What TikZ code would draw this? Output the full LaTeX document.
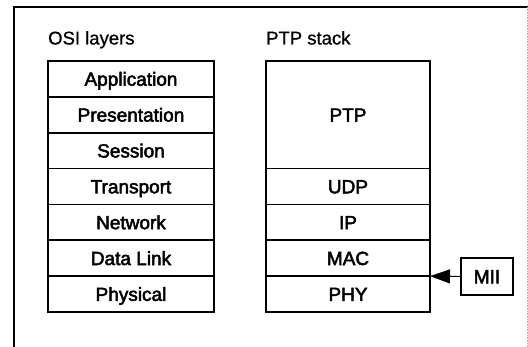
\documentclass[tikz,border=0pt]{standalone}
\usepackage{fontspec}
\setmainfont{Liberation Sans}[FakeBold=0.8]
\newfontfamily\layerfont{Liberation Sans}[FakeBold=2.6]
\usetikzlibrary{arrows.meta}
\begin{document}
\begin{tikzpicture}[x=1pt,y=-1pt,
    frameline/.style={line width=1.6pt},
    heading/.style={anchor=base west,inner sep=0pt,font=\fontsize{18.5}{20}\selectfont},
    layer/.style={draw,line width=1.6pt,inner sep=0pt,outer sep=0pt,
      minimum width=#1,text height=13.6pt,text depth=0pt,
      font=\layerfont\fontsize{19}{21}\selectfont},
    layer/.default=166pt,
    osi/.style={layer,minimum height=35.86pt},
    stackrow/.style={layer=164pt,minimum height=35.86pt},
    feed/.style={line width=1pt,-{Triangle[length=20pt,width=14pt]}}]
  \useasboundingbox (0,0) rectangle (528,347);

  % outer frame (open towards the bottom edge)
  \draw[frameline] (14,347) -- (14,7) -- (528,7);
  \draw[gray!60,line width=0.6pt,densely dotted] (527,7) -- (527,347);

  % column headings
  \node[heading] (osihead) at (48,44.5) {OSI layers};
  \node[heading] (ptphead) at (266,44.5) {PTP stack};

  % OSI reference model, seven layers
  \node[osi] (app)  at (131,78.93)  {Application};
  \node[osi] (pres) at (131,114.79) {Presentation};
  \node[osi] (sess) at (131,150.64) {Session};
  \node[osi] (trans) at (131,186.50) {Transport};
  \node[osi] (net)  at (131,222.36) {Network};
  \node[osi] (dl)   at (131,258.21) {Data Link};
  \node[osi] (phys) at (131,294.07) {Physical};

  % PTP protocol stack
  \node[layer=164pt,minimum height=107.57pt] (ptp) at (348,114.79) {PTP};
  \node[stackrow] (udp) at (348,186.50) {UDP};
  \node[stackrow] (ip)  at (348,222.36) {IP};
  \node[stackrow] (mac) at (348,258.21) {MAC};
  \node[stackrow] (phy) at (348,294.07) {PHY};

  % media independent interface
  \node[draw,line width=1.6pt,minimum width=52pt,minimum height=37pt,inner sep=0pt,
        text height=13.6pt,text depth=0pt,
        font=\layerfont\fontsize{19}{21}\selectfont] (mii) at (487,276.5) {MII};
  \draw[feed] (mii.west) -- (phy.north east);
\end{tikzpicture}
\end{document}
